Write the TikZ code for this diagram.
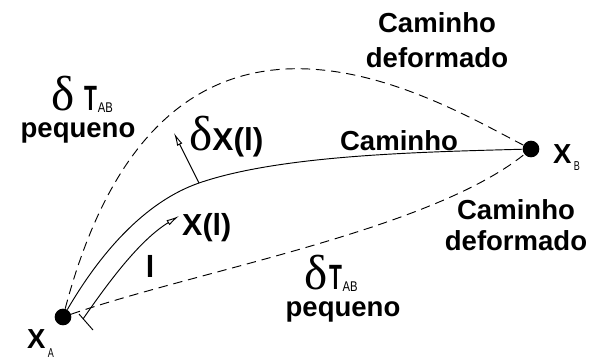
\documentclass[tikz,border=0pt]{standalone}
\usepackage{graphicx}
\usepackage{fontspec}
\setmainfont{Liberation Sans}
\newfontfamily\greekfont{Liberation Serif}
\usetikzlibrary{arrows.meta}

% delta T_AB label, optional gap between delta and T
\newcommand{\deltaT}[1][3pt]{\raisebox{0pt}[\height][0pt]{%
  {\greekfont\fontsize{42}{42}\selectfont δ}\kern#1%
  \scalebox{0.6}[1]{\bfseries\fontsize{30}{30}\selectfont T}%
  \raisebox{-2pt}{\scalebox{0.8}[1]{\normalfont\fontsize{12}{12}\selectfont AB}}}}

\begin{document}
\begin{tikzpicture}[x=0.03cm, y=-0.03cm,
    dot/.style={circle, fill=black, inner sep=0pt, minimum size=0.5cm},
    lbl/.style={font=\bfseries\fontsize{23.5}{27}\selectfont, inner sep=0pt, align=center},
    caminho/.style={line width=0.8pt},
    deformed/.style={line width=0.8pt, dash pattern=on 8pt off 5pt},
    vec/.style={line width=0.8pt, -{Latex[open,length=11pt,width=5pt]}},
  ]
  \useasboundingbox (0,0) rectangle (589,362);

  % end points
  \node[dot] (A) at (63,317) {};
  \node[dot] (B) at (531,149) {};
  \node[lbl, anchor=base west] (xa) at (27,348)
    {X\kern2pt\raisebox{-8pt}{\scalebox{0.7}[1]{\normalfont\fontsize{11}{11}\selectfont A}}};
  \node[lbl, anchor=base west] (xb) at (553,163)
    {X\kern2pt\raisebox{-6pt}{\scalebox{0.7}[1]{\normalfont\fontsize{11}{11}\selectfont B}}};

  % the path and the deformed paths
  \coordinate (dxbase) at (199,183);
  \draw[caminho] (A) .. controls (105,245) and (150,200) .. (dxbase)
    .. controls (280,155) and (420,152) .. (B);
  \draw[deformed] (A) .. controls (165,-69) and (437,101) .. (B);
  \draw[deformed] (A) .. controls (200,270) and (430,230) .. (B);

  % arc length and variation
  \coordinate (lstart) at (83,319);
  \coordinate (ltip) at (179,216);
  \coordinate (tick1) at (79,314);
  \coordinate (tick2) at (93,330);
  \coordinate (dxtip) at (174,133);
  \draw[caminho] (tick1) -- (tick2);
  \draw[vec] (lstart) .. controls (110,280) and (140,240) .. (ltip);
  \draw[vec] (dxbase) -- (dxtip);

  % labels
  \node[lbl, anchor=base] (cam) at (399,150) {Caminho};
  \node[lbl, anchor=north] (defup) at (437,12) {Caminho\\[3pt]deformado};
  \node[lbl, anchor=north] (deflow) at (516,199) {Caminho\\deformado};
  \node[inner sep=0pt, anchor=base west] (dtup) at (51,110) {\deltaT[9pt]};
  \node[lbl, anchor=base] (pqup) at (78,137) {pequeno};
  \node[inner sep=0pt, anchor=base west] (dtlow) at (304,289) {\deltaT[2pt]};
  \node[lbl, anchor=base] (pqlow) at (343,316) {pequeno};
  \node[lbl, anchor=base west] (dx) at (189,150)
    {{\greekfont\mdseries\fontsize{42}{42}\selectfont δ}{\fontsize{27}{27}\selectfont X(l)}};
  \node[lbl, anchor=base west] (xl) at (182,235) {\fontsize{26}{26}\selectfont X(l)};
  \node[lbl, anchor=base] (ell) at (150,277) {\fontsize{26}{26}\selectfont l};
\end{tikzpicture}
\end{document}
